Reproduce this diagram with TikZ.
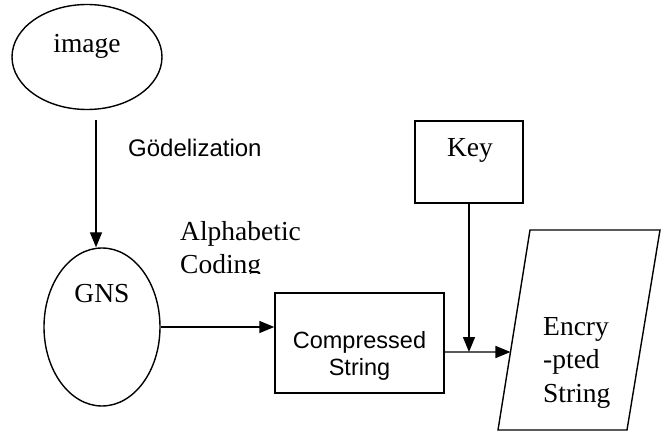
\documentclass[tikz,border=0pt]{standalone}
\usepackage{fontspec}
\setmainfont{Liberation Serif}
\setsansfont{Liberation Sans}
\usetikzlibrary{shapes.geometric,arrows.meta,calc}

\tikzset{
  shapeline/.style={draw=black, line width=1.4pt},
  blob/.style={shapeline, ellipse, inner sep=0pt},
  boxnode/.style={shapeline, rectangle, inner sep=0pt},
  arr/.style={line width=1.4pt, -{Triangle[length=15pt,width=12pt]}},
  serifbig/.style={font=\fontsize{27.5}{33.5}\selectfont, inner sep=0pt, anchor=base},
  sansmid/.style={font=\sffamily\fontsize{23.5}{27}\selectfont, inner sep=0pt},
}

\begin{document}
\begin{tikzpicture}[x=1pt, y=-1pt]
  \useasboundingbox[fill=white] (0,0) rectangle (665,433);

  % image source
  \node[blob, minimum width=150pt, minimum height=105pt] (img) at (87,57) {};
  \node[serifbig] (imgtxt) at (87,53) {image};

  % Goedel numbering
  \node[blob, minimum width=116pt, minimum height=158pt] (gns) at (102,327) {};
  \node[serifbig] (gnstxt) at (102,303) {GNS};

  % compressed string (base anchor sits on the last line)
  \node[boxnode, minimum width=169pt, minimum height=100pt] (cmp) at (359.5,343) {};
  \node[sansmid, align=center, anchor=base] (cmptxt) at (359.5,375) {Compressed\\String};

  % key
  \node[boxnode, minimum width=108pt, minimum height=82pt] (key) at (469,162) {};
  \node[serifbig] (keytxt) at (470,157) {Key};

  % encrypted string (parallelogram)
  \coordinate (ptl) at (530,230);
  \coordinate (ptr) at (660,230);
  \coordinate (pbr) at (627,430);
  \coordinate (pbl) at (498,430);
  \draw[shapeline, line join=miter] (ptl) -- (ptr) -- (pbr) -- (pbl) -- cycle;
  \node[serifbig, align=left, anchor=base west] (enctxt) at (543,402) {Encry\\-pted\\String};
  \coordinate (encin) at ($(pbl)!0.39!(ptl)$);

  % step labels
  \node[sansmid, font=\sffamily\fontsize{24}{28}\selectfont, anchor=base west] (godel) at (128,157) {Gödelization};
  \begin{scope}
    \clip (170,200) rectangle (340,274);
    \node[serifbig, font=\fontsize{27.5}{33}\selectfont, align=left, anchor=base west] (alpha) at (180,273) {Alphabetic\\Coding};
  \end{scope}

  % connectors
  \coordinate (gtail) at (96,120);
  \draw[arr] (gtail) -- (gtail |- gns.north);
  \draw[arr] (gns.east) -- (cmp.west |- gns.east);
  \coordinate (hin) at ($(cmp.east)+(0,9)$);
  \draw[arr] (hin) -- (encin);
  \draw[arr] (key.south) -- (key.south |- hin);
\end{tikzpicture}
\end{document}
